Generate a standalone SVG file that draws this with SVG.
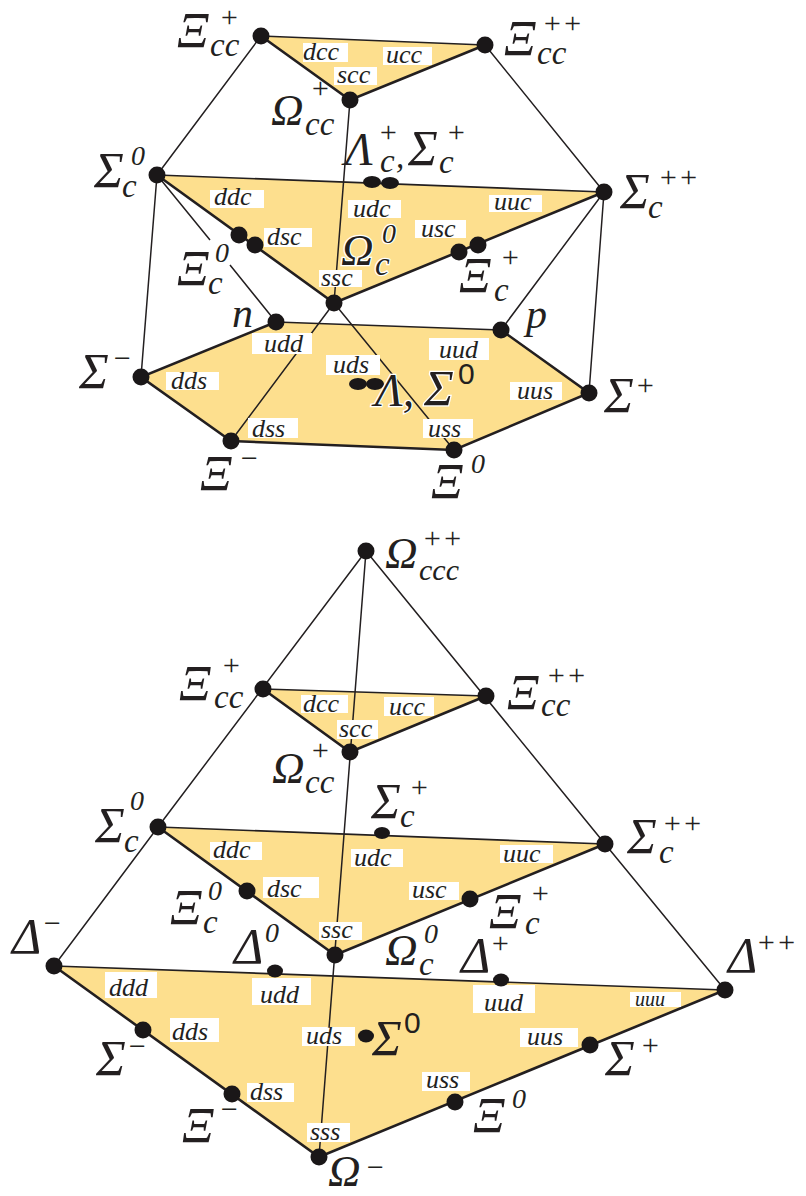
<svg xmlns="http://www.w3.org/2000/svg" width="806" height="1196" viewBox="0 0 806 1196">
<style>
text{font-family:"Liberation Serif","Times New Roman",serif;font-style:italic;fill:#231f20}
.face{fill:#fddf8e}
.thin{stroke:#231f20;stroke-width:1.5;fill:none}
.edge{stroke:#231f20;stroke-width:2.6;fill:none}
.hair{stroke:#231f20;stroke-width:1.7;fill:none}
.box{fill:#fff}
.q{font-size:26px}
.xi{font-size:50px}
.si{font-size:50px}
.om{font-size:45px}
.de{font-size:50px}
.s{font-size:33px}
.t{font-size:30px}
.z{font-size:28px}
.halo{stroke:#fff;stroke-width:2.5;paint-order:stroke}
.dot{fill:#1a1718}
.up{font-style:normal;font-family:"Liberation Sans",sans-serif}
</style>
<rect width="806" height="1196" fill="#fff"/>
<g id="faces">
<polygon class="face" points="261,36 485,45 350,100"/>
<polygon class="face" points="157,175 604,192 334,303"/>
<polygon class="face" points="276,322 501,330 589,393 454,450 231,441 141,377"/>
<polygon class="face" points="263,689 486,696 350,752"/>
<polygon class="face" points="158,827 605,844 335,955"/>
<polygon class="face" points="54,966 725,990 319,1157"/>
</g>
<g id="connectors">
<path class="thin" d="M261,36L157,175M485,45L604,192M157,175L141,377M604,192L589,393M350,100L334,303M157,175L210,240M230,265L276,322M604,192L501,330M334,303L231,441M334,303L454,450"/>
<path class="hair" d="M261,36L485,45M157,175L604,192M276,322L501,330"/>
<path class="edge" d="M261,36L350,100L485,45M157,175L334,303L604,192M276,322L141,377L231,441L454,450L589,393L501,330"/>
<path class="thin" d="M366,551L158,827L54,966M366,551L605,844L725,990M366,551L319,1157"/>
<path class="hair" d="M263,689L486,696M158,827L605,844M54,966L725,990"/>
<path class="edge" d="M263,689L350,752L486,696M158,827L335,955L605,844M54,966L319,1157L725,990"/>
</g>
<g id="quark-labels">
<rect class="box" x="303" y="43" width="45" height="19"/><text class="q" x="303" y="60">dcc</text>
<rect class="box" x="383" y="47" width="49" height="18"/><text class="q" x="386" y="63">ucc</text>
<rect class="box" x="334" y="67" width="43" height="18"/><text class="q" x="337" y="83">scc</text>
<rect class="box" x="210" y="190" width="54" height="18"/><text class="q" x="214" y="205">ddc</text>
<rect class="box" x="348" y="200" width="53" height="18"/><text class="q" x="353" y="217">udc</text>
<rect class="box" x="489" y="195" width="53" height="17"/><text class="q" x="494" y="210">uuc</text>
<rect class="box" x="415" y="220" width="51" height="18"/><text class="q" x="421" y="237">usc</text>
<rect class="box" x="264" y="228" width="48" height="19"/><text class="q" x="267" y="245">dsc</text>
<rect class="box" x="319" y="270" width="43" height="17"/><text class="q" x="321" y="286">ssc</text>
<rect class="box" x="252" y="333" width="60" height="21"/><text class="q" x="264" y="352">udd</text>
<rect class="box" x="166" y="372" width="53" height="18"/><text class="q" x="171" y="389">dds</text>
<rect class="box" x="326" y="355" width="54" height="20"/><text class="q" x="333" y="373">uds</text>
<rect class="box" x="429" y="338" width="60" height="22"/><text class="q" x="439" y="358">uud</text>
<rect class="box" x="510" y="382" width="52" height="18"/><text class="q" x="517" y="399">uus</text>
<rect class="box" x="248" y="418" width="50" height="20"/><text class="q" x="252" y="437">dss</text>
<rect class="box" x="423" y="419" width="50" height="19"/><text class="q" x="428" y="437">uss</text>

<rect class="box" x="301" y="695" width="47" height="18"/><text class="q" x="303" y="712">dcc</text>
<rect class="box" x="384" y="697" width="50" height="19"/><text class="q" x="389" y="715">ucc</text>
<rect class="box" x="337" y="720" width="41" height="19"/><text class="q" x="339" y="737">scc</text>
<rect class="box" x="210" y="842" width="52" height="18"/><text class="q" x="213" y="858">ddc</text>
<rect class="box" x="351" y="849" width="52" height="18"/><text class="q" x="354" y="866">udc</text>
<rect class="box" x="500" y="845" width="53" height="18"/><text class="q" x="503" y="862">uuc</text>
<rect class="box" x="263" y="877" width="56" height="21"/><text class="q" x="267" y="897">dsc</text>
<rect class="box" x="409" y="882" width="50" height="18"/><text class="q" x="412" y="898">usc</text>
<rect class="box" x="319" y="922" width="43" height="18"/><text class="q" x="321" y="938">ssc</text>
<rect class="box" x="105" y="972" width="52" height="26"/><text class="q" x="109" y="996">ddd</text>
<rect class="box" x="252" y="978" width="59" height="27"/><text class="q" x="260" y="1003">udd</text>
<rect class="box" x="473" y="985" width="62" height="28"/><text class="q" x="484" y="1011">uud</text>
<rect class="box" x="630" y="992" width="51" height="15"/><text x="635" y="1006" style="font-size:20px">uuu</text>
<rect class="box" x="170" y="1018" width="49" height="24"/><text class="q" x="172" y="1040">dds</text>
<rect class="box" x="302" y="1027" width="53" height="19"/><text class="q" x="306" y="1044">uds</text>
<rect class="box" x="520" y="1028" width="58" height="19"/><text class="q" x="527" y="1045">uus</text>
<rect class="box" x="422" y="1072" width="48" height="19"/><text class="q" x="426" y="1088">uss</text>
<rect class="box" x="247" y="1083" width="47" height="19"/><text class="q" x="250" y="1100">dss</text>
<rect class="box" x="307" y="1123" width="43" height="19"/><text class="q" x="310" y="1140">sss</text>
</g>

<g id="top-xicc-plus"><circle class="dot" cx="261" cy="36" r="8.5"/><text class="xi" x="177" y="47">Ξ</text><text class="s" x="210" y="56">cc</text><text class="t" x="219" y="27">+</text></g>
<g id="top-xicc-plusplus"><circle class="dot" cx="485" cy="45" r="8.5"/><text class="xi" x="504" y="55">Ξ</text><text class="s" x="537" y="64">cc</text><text class="t" x="542" y="33">++</text></g>
<g id="top-omegacc-plus"><circle class="dot" cx="350" cy="100" r="8.5"/><text class="om" x="271" y="125">Ω</text><text class="s" x="305" y="135">cc</text><text class="t" x="310" y="98">+</text></g>
<g id="top-sigmac-zero"><circle class="dot" cx="157" cy="175" r="8.5"/><text class="si" x="94" y="187">Σ</text><text class="s" x="122" y="197">c</text><text class="z" x="131" y="165">0</text></g>
<g id="top-lambda-sigmac-plus"><ellipse class="dot" cx="372" cy="182" rx="9" ry="6"/><ellipse class="dot" cx="390" cy="183" rx="9" ry="6"/><text class="de" x="345" y="165" style="font-size:46px">Λ</text><text class="s" x="380" y="172">c</text><text class="t" x="378" y="142">+</text><text class="s" x="396" y="168">,</text><text class="si" x="408" y="165">Σ</text><text class="s" x="439" y="173">c</text><text class="t" x="446" y="142">+</text></g>
<g id="top-sigmac-plusplus"><circle class="dot" cx="604" cy="192" r="8.5"/><text class="si" x="620" y="208">Σ</text><text class="s" x="648" y="218">c</text><text class="t" x="658" y="187">++</text></g>
<g id="top-xic-zero"><circle class="dot" cx="239" cy="235" r="8.5"/><text class="xi" x="177" y="285">Ξ</text><text class="s" x="208" y="294">c</text><text class="z" x="215" y="262">0</text></g>
<g id="top-xic-zero-second"><circle class="dot" cx="255" cy="245" r="8.5"/></g>
<g id="top-xic-plus"><circle class="dot" cx="459" cy="252" r="8.5"/><text class="xi" x="459" y="292">Ξ</text><text class="s" x="494" y="301">c</text><text class="t" x="500" y="267">+</text></g>
<g id="top-xic-plus-second"><circle class="dot" cx="478" cy="245" r="8.5"/></g>
<g id="top-omegac-zero"><circle class="dot" cx="334" cy="303" r="8.5"/><text class="om halo" x="341" y="265">Ω</text><text class="s halo" x="375" y="275">c</text><text class="z halo" x="382" y="243">0</text></g>
<g id="top-n"><circle class="dot" cx="276" cy="322" r="8.5"/><text x="232" y="327" style="font-size:42px">n</text></g>
<g id="top-p"><circle class="dot" cx="501" cy="330" r="8.5"/><text x="526" y="328" style="font-size:42px">p</text></g>
<g id="top-sigma-minus"><circle class="dot" cx="141" cy="377" r="8.5"/><text class="si" x="79" y="388">Σ</text><text class="t" x="112" y="368">−</text></g>
<g id="top-lambda-sigma-zero"><ellipse class="dot" cx="358" cy="384" rx="9" ry="6"/><ellipse class="dot" cx="375" cy="384" rx="9" ry="6"/><text class="halo" x="375" y="406" style="font-size:46px">Λ,</text><text class="si halo" x="424" y="405">Σ</text><text class="up" x="458" y="384" style="font-size:30px">0</text></g>
<g id="top-sigma-plus"><circle class="dot" cx="589" cy="393" r="8.5"/><text class="si" x="604" y="412">Σ</text><text class="t" x="635" y="395">+</text></g>
<g id="top-xi-minus"><circle class="dot" cx="231" cy="441" r="8.5"/><text class="xi" x="200" y="490">Ξ</text><text class="t" x="239" y="468">−</text></g>
<g id="top-xi-zero"><circle class="dot" cx="454" cy="450" r="8.5"/><text class="xi" x="431" y="498">Ξ</text><text class="z" x="471" y="473">0</text></g>

<g id="omegaccc"><circle class="dot" cx="366" cy="551" r="8.5"/><text class="om" x="385" y="568">Ω</text><text class="s" x="419" y="580" style="font-size:30px">ccc</text><text class="t" x="422" y="548">++</text></g>
<g id="xicc-plus"><circle class="dot" cx="263" cy="689" r="8.5"/><text class="xi" x="179" y="700">Ξ</text><text class="s" x="214" y="708">cc</text><text class="t" x="221" y="675">+</text></g>
<g id="xicc-plusplus"><circle class="dot" cx="486" cy="696" r="8.5"/><text class="xi" x="507" y="709">Ξ</text><text class="s" x="541" y="716">cc</text><text class="t" x="546" y="685">++</text></g>
<g id="omegacc-plus"><circle class="dot" cx="350" cy="752" r="8.5"/><text class="om" x="272" y="783">Ω</text><text class="s" x="305" y="793">cc</text><text class="t" x="310" y="760">+</text></g>
<g id="sigmac-plus"><ellipse class="dot" cx="382" cy="833" rx="8" ry="6"/><text class="si" x="371" y="818">Σ</text><text class="s" x="400" y="827">c</text><text class="t" x="409" y="797">+</text></g>
<g id="sigmac-zero"><circle class="dot" cx="158" cy="827" r="8.5"/><text class="si" x="95" y="842">Σ</text><text class="s" x="124" y="852">c</text><text class="z" x="130" y="810">0</text></g>
<g id="sigmac-plusplus"><circle class="dot" cx="605" cy="844" r="8.5"/><text class="si" x="627" y="853">Σ</text><text class="s" x="659" y="863">c</text><text class="t" x="662" y="833">++</text></g>
<g id="xic-zero"><circle class="dot" cx="247" cy="891" r="8.5"/><text class="xi" x="170" y="924">Ξ</text><text class="s" x="203" y="933">c</text><text class="z" x="208" y="900">0</text></g>
<g id="xic-plus"><circle class="dot" cx="470" cy="899" r="8.5"/><text class="xi" x="489" y="928">Ξ</text><text class="s" x="525" y="934">c</text><text class="t" x="530" y="903">+</text></g>
<g id="omegac-zero"><circle class="dot" cx="335" cy="955" r="8.5"/><text class="om" x="385" y="965">Ω</text><text class="s" x="419" y="975">c</text><text class="z" x="424" y="943">0</text></g>
<g id="delta-minus"><circle class="dot" cx="54" cy="966" r="8.5"/><text class="de" x="12" y="953">Δ</text><text class="t" x="42" y="933">−</text></g>
<g id="delta-zero"><ellipse class="dot" cx="275" cy="971" rx="8" ry="6.5"/><text class="de" x="234" y="963">Δ</text><text class="z" x="265" y="942">0</text></g>
<g id="delta-plus"><ellipse class="dot" cx="501" cy="980" rx="8" ry="6.5"/><text class="de" x="461" y="972">Δ</text><text class="t" x="490" y="953">+</text></g>
<g id="delta-plusplus"><circle class="dot" cx="725" cy="990" r="8.5"/><text class="de" x="728" y="972">Δ</text><text class="t" x="756" y="952">++</text></g>
<g id="sigma-zero"><ellipse class="dot" cx="366" cy="1036" rx="8" ry="6.5"/><text class="si" x="372" y="1055">Σ</text><text class="up" x="404" y="1033" style="font-size:30px">0</text></g>
<g id="sigma-minus"><circle class="dot" cx="143" cy="1030" r="8.5"/><text class="si" x="96" y="1075">Σ</text><text class="t" x="127" y="1056">−</text></g>
<g id="sigma-plus"><circle class="dot" cx="590" cy="1045" r="8.5"/><text class="si" x="605" y="1075">Σ</text><text class="t" x="640" y="1055">+</text></g>
<g id="xi-minus"><circle class="dot" cx="232" cy="1094" r="8.5"/><text class="xi" x="182" y="1142">Ξ</text><text class="t" x="219" y="1119">−</text></g>
<g id="xi-zero"><circle class="dot" cx="455" cy="1102" r="8.5"/><text class="xi" x="473" y="1132">Ξ</text><text class="z" x="512" y="1108">0</text></g>
<g id="omega-minus"><circle class="dot" cx="319" cy="1157" r="8.5"/><text class="om" x="328" y="1186">Ω</text><text class="t" x="365" y="1177">−</text></g>
</svg>
